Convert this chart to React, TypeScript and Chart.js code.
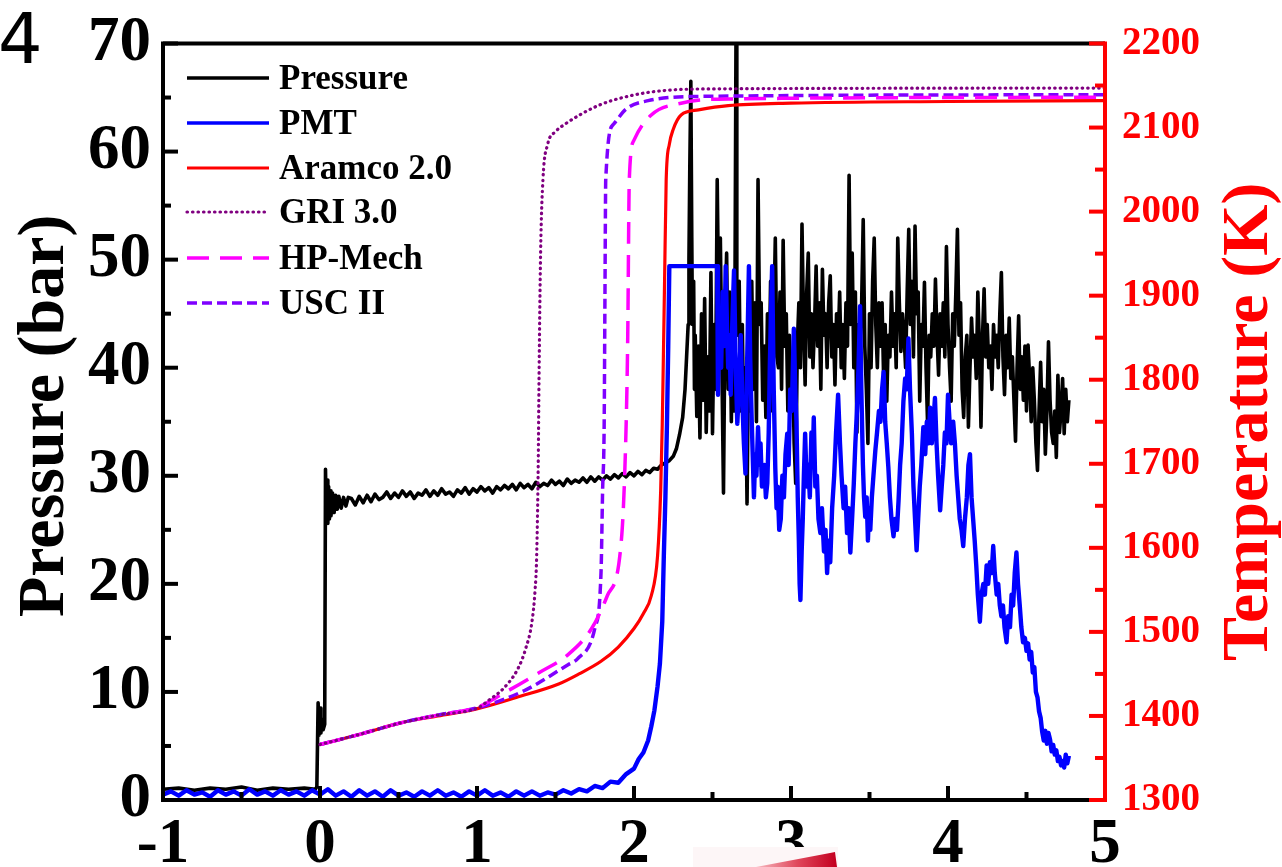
import React, { useEffect, useRef } from 'react';
import { Chart, registerables } from 'chart.js';

Chart.register(...registerables);

// ---------- data (time in ms on x) ----------
const seriesLabels = ['Pressure', 'PMT', 'Aramco 2.0', 'GRI 3.0', 'HP-Mech', 'USC II'];
const seriesColors = ['#000000', '#0000ff', '#ff0000', '#800080', '#ff00ff', '#7f00ff'];

const xTickValues = [-1, 0, 1, 2, 3, 4, 5];
const pressureTickValues = [0, 10, 20, 30, 40, 50, 60, 70];
const temperatureTickValues = [1300, 1400, 1500, 1600, 1700, 1800, 1900, 2000, 2100, 2200];

// Pressure (bar)
const pressureData: [number, number][] = [
  [-1, 1.0], [-0.9, 1.1], [-0.8, 0.9], [-0.7, 1.1], [-0.6, 1.0], [-0.5, 1.2], [-0.4, 0.9], [-0.3, 1.1],
  [-0.2, 1.0], [-0.1, 1.1], [-0.03, 1.0], [-0.02, 1.2], [-0.012, 9.0], [-0.006, 6.0], [0.0, 8.5],
  [0.006, 6.2], [0.012, 7.5], [0.02, 6.5], [0.03, 7.0], [0.035, 30.6], [0.04, 26.0], [0.045, 29.6],
  [0.05, 25.6], [0.055, 29.0], [0.06, 26.0], [0.065, 28.6], [0.07, 26.3], [0.08, 28.4], [0.09, 26.6],
  [0.1, 28.2], [0.11, 26.9], [0.12, 28.1], [0.135, 27.0], [0.15, 28.0], [0.165, 27.2], [0.18, 28.0],
  [0.2, 27.9], [0.225, 27.3], [0.25, 28.1], [0.275, 27.5], [0.3, 28.2], [0.325, 27.6], [0.35, 28.3],
  [0.375, 27.8], [0.4, 28.0], [0.425, 28.5], [0.45, 27.9], [0.475, 28.4], [0.5, 28.0], [0.525, 28.6],
  [0.55, 28.1], [0.575, 28.5], [0.6, 27.9], [0.625, 28.4], [0.65, 28.2], [0.675, 28.7], [0.7, 28.1],
  [0.725, 28.6], [0.75, 28.2], [0.775, 28.8], [0.8, 28.3], [0.825, 28.5], [0.85, 28.1], [0.875, 28.7],
  [0.9, 28.4], [0.925, 28.9], [0.95, 28.3], [0.975, 28.8], [1.0, 28.5], [1.025, 29.0], [1.05, 28.6],
  [1.075, 28.9], [1.1, 28.4], [1.125, 29.0], [1.15, 28.7], [1.175, 29.1], [1.2, 28.8], [1.225, 29.2],
  [1.25, 28.7], [1.275, 29.3], [1.3, 28.9], [1.325, 29.2], [1.35, 28.8], [1.375, 29.4], [1.4, 29.0],
  [1.425, 29.3], [1.45, 29.1], [1.475, 29.6], [1.5, 29.2], [1.525, 29.5], [1.55, 29.1], [1.575, 29.7],
  [1.6, 29.3], [1.625, 29.6], [1.65, 29.4], [1.675, 29.8], [1.7, 29.4], [1.725, 29.9], [1.75, 29.5],
  [1.775, 29.9], [1.8, 29.6], [1.825, 30.0], [1.85, 29.7], [1.875, 30.1], [1.9, 29.8], [1.925, 30.2],
  [1.95, 29.9], [1.975, 30.3], [2.0, 30.0], [2.025, 30.4], [2.05, 30.1], [2.075, 30.5], [2.1, 30.3],
  [2.125, 30.7], [2.15, 30.6], [2.175, 31.0], [2.2, 31.2], [2.225, 31.4], [2.25, 31.8], [2.27, 32.5],
  [2.29, 33.8], [2.31, 35.4], [2.325, 38], [2.335, 41], [2.345, 44], [2.35, 50], [2.355, 58],
  [2.362, 66.5], [2.368, 52], [2.372, 44], [2.38, 48], [2.385, 38], [2.39, 43], [2.40, 35.5],
  [2.41, 42], [2.42, 33.5], [2.43, 45], [2.44, 37], [2.45, 46.4], [2.46, 34], [2.47, 41], [2.48, 36],
  [2.49, 48.8], [2.50, 33.9], [2.51, 44], [2.52, 38], [2.53, 57.4], [2.54, 45], [2.55, 52], [2.56, 40],
  [2.57, 28.4], [2.58, 45], [2.59, 50.6], [2.60, 38], [2.61, 47], [2.62, 35], [2.63, 44], [2.64, 36],
  [2.65, 72], [2.655, 45], [2.66, 43], [2.67, 48], [2.68, 36], [2.69, 44], [2.70, 33], [2.71, 40],
  [2.72, 27.4], [2.73, 42], [2.74, 36], [2.75, 48], [2.76, 38], [2.77, 46], [2.78, 35], [2.79, 57.4],
  [2.80, 44], [2.81, 46], [2.82, 37], [2.83, 42], [2.84, 35.4], [2.85, 45], [2.86, 39], [2.87, 48],
  [2.88, 36], [2.89, 44], [2.90, 52], [2.91, 41], [2.92, 40], [2.93, 47], [2.94, 38], [2.95, 51.8],
  [2.96, 42], [2.97, 45], [2.98, 36], [2.99, 43], [3.00, 38], [3.01, 41], [3.02, 33], [3.03, 29.3],
  [3.04, 42], [3.05, 46], [3.06, 40], [3.07, 53.3], [3.08, 44], [3.09, 38.4], [3.10, 47], [3.11, 50.6],
  [3.12, 41], [3.13, 45], [3.14, 40], [3.15, 44], [3.16, 49.4], [3.17, 42], [3.18, 46], [3.19, 38],
  [3.20, 49.1], [3.21, 43], [3.22, 45], [3.23, 40], [3.24, 46], [3.25, 48.5], [3.26, 41], [3.27, 44],
  [3.28, 38.4], [3.29, 45], [3.30, 42], [3.31, 47], [3.32, 40], [3.33, 44], [3.34, 39], [3.35, 46],
  [3.36, 42], [3.37, 57.8], [3.38, 44], [3.39, 50.6], [3.40, 40], [3.41, 47], [3.42, 34], [3.43, 44],
  [3.44, 41], [3.45, 46], [3.46, 53.7], [3.47, 42], [3.48, 38], [3.49, 33], [3.50, 45], [3.51, 40],
  [3.52, 48], [3.53, 52], [3.54, 44], [3.55, 40], [3.56, 46], [3.57, 42], [3.58, 46], [3.59, 39],
  [3.60, 44], [3.61, 36.9], [3.62, 43], [3.63, 41], [3.64, 47], [3.65, 42], [3.66, 45], [3.67, 40],
  [3.68, 52], [3.69, 46], [3.70, 41.5], [3.71, 45], [3.72, 43], [3.73, 40], [3.74, 47], [3.75, 52.8],
  [3.76, 44], [3.77, 48], [3.78, 41], [3.79, 53.1], [3.80, 45], [3.81, 47], [3.82, 36.9], [3.83, 44],
  [3.84, 42], [3.85, 47.9], [3.86, 40], [3.87, 34.8], [3.88, 43], [3.89, 41], [3.90, 45], [3.91, 42],
  [3.92, 48.2], [3.93, 43], [3.94, 39.3], [3.95, 45], [3.96, 42], [3.97, 46], [3.98, 41], [3.99, 51.2],
  [4.00, 44], [4.01, 40], [4.02, 36.9], [4.03, 45], [4.04, 42], [4.05, 47], [4.06, 52.8], [4.07, 43],
  [4.08, 46], [4.09, 38], [4.10, 35.4], [4.11, 41], [4.12, 43], [4.13, 34.5], [4.14, 40], [4.15, 44.6],
  [4.16, 41], [4.17, 43], [4.18, 39], [4.19, 47], [4.20, 42], [4.21, 34.5], [4.22, 43], [4.23, 47.3],
  [4.24, 41], [4.25, 44], [4.26, 40], [4.27, 42], [4.28, 38], [4.29, 44], [4.30, 41], [4.31, 43],
  [4.32, 40], [4.33, 45], [4.34, 48.8], [4.35, 41], [4.36, 37.5], [4.37, 43], [4.38, 40], [4.39, 44.6],
  [4.40, 39], [4.41, 41], [4.42, 37], [4.43, 33.2], [4.44, 40], [4.45, 44.8], [4.46, 38], [4.47, 41],
  [4.48, 37], [4.49, 42], [4.50, 36], [4.51, 42.1], [4.52, 39], [4.53, 35], [4.54, 40], [4.55, 37],
  [4.56, 33], [4.57, 30.5], [4.58, 36], [4.59, 40.5], [4.60, 35], [4.61, 38], [4.62, 32], [4.63, 36],
  [4.64, 42.4], [4.65, 37], [4.66, 34], [4.67, 33], [4.68, 36], [4.69, 31.7], [4.70, 39.3], [4.71, 34],
  [4.72, 36], [4.73, 39], [4.74, 33.9], [4.75, 38], [4.76, 35], [4.77, 37],
];

// PMT signal (plotted on pressure axis)
const pmtData: [number, number][] = [
  [-1, 0.5], [-0.95, 0.8], [-0.9, 0.4], [-0.85, 0.9], [-0.8, 0.5], [-0.75, 0.7], [-0.7, 0.3], [-0.65, 0.9],
  [-0.6, 0.5], [-0.55, 0.8], [-0.5, 0.4], [-0.45, 1.0], [-0.4, 0.5], [-0.35, 0.8], [-0.3, 0.4], [-0.25, 0.9],
  [-0.2, 0.5], [-0.15, 0.8], [-0.1, 0.4], [-0.05, 0.9], [0, 0.5], [0.05, 1.0], [0.1, 0.4], [0.15, 0.8],
  [0.2, 0.3], [0.25, 0.9], [0.3, 0.4], [0.35, 0.8], [0.4, 0.3], [0.45, 0.9], [0.5, 0.4], [0.55, 0.7],
  [0.6, 0.3], [0.65, 0.8], [0.7, 0.4], [0.75, 0.9], [0.8, 0.4], [0.85, 0.7], [0.9, 0.3], [0.95, 0.8],
  [1.0, 0.4], [1.05, 0.9], [1.1, 0.4], [1.15, 0.7], [1.2, 0.3], [1.25, 0.8], [1.3, 0.4], [1.35, 0.8],
  [1.4, 0.4], [1.45, 0.7], [1.5, 0.5], [1.55, 0.9], [1.6, 0.6], [1.65, 1.0], [1.7, 0.8], [1.75, 1.3],
  [1.8, 1.1], [1.85, 1.7], [1.9, 1.6], [1.95, 2.4], [2.0, 2.9], [2.03, 3.8], [2.06, 4.4], [2.09, 5.5],
  [2.11, 6.8], [2.13, 8.3], [2.15, 10.5], [2.165, 12.6], [2.18, 16.5], [2.19, 22.6], [2.2, 28],
  [2.21, 34.8], [2.218, 42], [2.225, 49.4], [2.53, 49.4], [2.535, 37.5], [2.545, 45], [2.555, 40],
  [2.565, 47], [2.575, 42], [2.584, 49.4], [2.592, 44], [2.6, 40], [2.608, 43], [2.616, 37.5],
  [2.626, 44], [2.637, 49], [2.648, 40], [2.658, 34.8], [2.668, 38], [2.68, 43], [2.69, 37], [2.7, 33],
  [2.71, 30.2], [2.72, 40], [2.732, 49.4], [2.74, 41], [2.75, 35], [2.764, 28], [2.772, 32], [2.78, 30],
  [2.79, 34.5], [2.8, 31], [2.806, 33], [2.815, 29], [2.83, 31], [2.84, 28], [2.849, 29.3], [2.858, 34],
  [2.865, 40], [2.872, 45], [2.88, 49.4], [2.89, 38], [2.9, 30.7], [2.908, 27], [2.915, 29], [2.925, 25],
  [2.935, 26], [2.945, 30], [2.955, 28], [2.965, 32], [2.976, 33.9], [2.985, 31], [2.995, 38],
  [3.005, 36], [3.018, 43.6], [3.027, 38], [3.035, 35], [3.043, 28], [3.05, 24], [3.055, 20],
  [3.06, 18.5], [3.068, 23], [3.075, 26], [3.082, 30], [3.09, 33.9], [3.1, 29], [3.11, 31], [3.12, 28],
  [3.13, 34], [3.138, 31], [3.145, 35.4], [3.155, 29], [3.165, 30], [3.175, 26], [3.187, 24.7],
  [3.197, 27], [3.21, 23], [3.22, 25], [3.23, 21], [3.24, 24], [3.25, 22], [3.262, 27], [3.275, 30],
  [3.287, 34], [3.3, 37.5], [3.312, 33], [3.322, 30], [3.335, 27], [3.345, 29], [3.357, 24.7],
  [3.367, 27], [3.378, 22.9], [3.389, 26], [3.4, 29.3], [3.41, 33], [3.42, 36], [3.43, 40], [3.44, 45.7],
  [3.448, 38], [3.458, 31], [3.465, 28], [3.473, 26.2], [3.482, 28], [3.49, 24], [3.497, 27], [3.505, 25],
  [3.515, 28], [3.525, 30], [3.537, 32.3], [3.548, 34], [3.56, 36], [3.57, 35], [3.58, 38], [3.59, 39.6],
  [3.6, 35], [3.61, 33], [3.62, 30.8], [3.63, 28], [3.64, 26], [3.653, 24.4], [3.663, 26], [3.675, 25],
  [3.685, 27.7], [3.695, 31], [3.705, 33], [3.716, 36.9], [3.727, 39], [3.737, 38], [3.748, 42.7],
  [3.758, 38], [3.77, 33.9], [3.78, 29], [3.79, 26], [3.8, 23.1], [3.81, 26], [3.82, 29], [3.83, 31],
  [3.843, 34.5], [3.855, 32], [3.865, 35], [3.876, 33], [3.886, 36.3], [3.897, 33], [3.907, 35],
  [3.917, 37.2], [3.927, 33], [3.937, 30], [3.95, 26.8], [3.96, 29], [3.97, 31], [3.98, 34], [3.99, 33],
  [4.0, 37.5], [4.01, 35], [4.02, 33], [4.033, 35], [4.044, 33], [4.055, 30], [4.065, 28], [4.075, 26],
  [4.086, 25], [4.097, 23.5], [4.108, 26], [4.12, 28], [4.13, 31], [4.14, 32], [4.15, 28], [4.16, 26],
  [4.17, 24], [4.18, 21.7], [4.19, 19], [4.203, 16.5], [4.213, 19], [4.225, 20], [4.235, 19],
  [4.246, 21.7], [4.256, 20], [4.267, 22], [4.278, 21], [4.288, 23.5], [4.298, 21], [4.31, 19],
  [4.32, 20], [4.33, 18], [4.34, 17], [4.35, 18], [4.36, 16], [4.373, 14.6], [4.383, 17], [4.395, 16],
  [4.405, 19], [4.415, 18], [4.425, 21], [4.436, 22.9], [4.446, 20], [4.457, 18], [4.467, 16],
  [4.478, 14.6], [4.49, 15], [4.5, 13.8], [4.51, 14.5], [4.52, 13], [4.53, 13.7], [4.54, 11.8],
  [4.55, 12.3], [4.56, 10], [4.57, 9.5], [4.58, 8.2], [4.59, 7.6], [4.6, 6.3], [4.61, 5.5], [4.62, 6.4],
  [4.63, 5.2], [4.64, 6.2], [4.65, 5.6], [4.66, 4.5], [4.67, 5.1], [4.68, 4.2], [4.69, 4.6], [4.7, 3.6],
  [4.71, 4.0], [4.72, 3.2], [4.73, 3.6], [4.74, 3.0], [4.75, 4.2], [4.76, 3.4], [4.77, 4.1],
];

// Simulated temperatures (K)
const aramcoData: [number, number][] = [
  [0, 1366], [0.25, 1378], [0.52, 1392], [0.75, 1400], [1.01, 1409], [1.25, 1422], [1.52, 1438],
  [1.65, 1450], [1.79, 1465], [1.9, 1482], [2.0, 1504], [2.06, 1522], [2.11, 1543], [2.15, 1590],
  [2.17, 1668], [2.18, 1747], [2.185, 1802], [2.195, 1920], [2.205, 2038], [2.225, 2080], [2.25, 2098],
  [2.3, 2115], [2.41, 2121], [2.6, 2126], [3.0, 2129], [4.0, 2131], [5.0, 2132],
];
const griData: [number, number][] = [
  [0, 1366], [0.25, 1378], [0.52, 1392], [0.75, 1401], [1.01, 1410], [1.07, 1418], [1.17, 1433],
  [1.26, 1456], [1.31, 1480], [1.35, 1512], [1.37, 1550], [1.38, 1590], [1.39, 1700], [1.395, 1800],
  [1.405, 1950], [1.42, 2038], [1.45, 2080], [1.5, 2095], [1.56, 2104], [1.77, 2126], [1.98, 2138],
  [2.19, 2144], [2.5, 2146], [5.0, 2147],
];
const hpMechData: [number, number][] = [
  [0, 1366], [0.25, 1378], [0.52, 1392], [0.75, 1401], [1.01, 1411], [1.16, 1426], [1.4, 1452],
  [1.58, 1473], [1.73, 1504], [1.83, 1543], [1.92, 1610], [1.95, 1747], [1.96, 1850], [1.97, 2038],
  [2.0, 2085], [2.11, 2115], [2.3, 2129], [2.6, 2134], [5.0, 2136],
];
const uscData: [number, number][] = [
  [0, 1366], [0.25, 1378], [0.52, 1392], [0.75, 1401], [1.01, 1410], [1.3, 1430], [1.58, 1461],
  [1.64, 1468], [1.75, 1504], [1.79, 1571], [1.8, 1668], [1.81, 1747], [1.815, 1900], [1.82, 2038],
  [1.87, 2104], [1.95, 2122], [2.09, 2132], [2.4, 2137], [5.0, 2139],
];

const SERIF = '"Liberation Serif", "Times New Roman", serif';

const toXY = (arr: [number, number][]) => arr.map(([x, y]) => ({ x, y }));

const decorPlugin = {
  id: 'decor',
  afterDatasetsDraw(chart: any) {
    const { ctx, chartArea: a, scales } = chart;
    const xs = scales.x, ys = scales.y, y1s = scales.y1;
    ctx.save();
    ctx.lineCap = 'butt';
    ctx.lineWidth = 4;
    const seg = (x0: number, y0: number, x1: number, y1: number) => {
      ctx.beginPath(); ctx.moveTo(x0, y0); ctx.lineTo(x1, y1); ctx.stroke();
    };
    // x ticks (inward)
    ctx.strokeStyle = '#000';
    for (let i = 0; i <= 12; i++) {
      const v = -1 + i * 0.5;
      const px = xs.getPixelForValue(v);
      seg(px, a.bottom, px, a.bottom - (i % 2 === 0 ? 14 : 8));
    }
    // left y ticks
    for (let i = 0; i <= 14; i++) {
      const v = i * 5;
      const py = ys.getPixelForValue(v);
      seg(a.left, py, a.left + (i % 2 === 0 ? 15 : 8), py);
    }
    // frame
    seg(a.left - 2, a.top, a.right, a.top);
    seg(a.left, a.top, a.left, a.bottom + 2);
    seg(a.left - 2, a.bottom, a.right, a.bottom);
    // right axis (red)
    ctx.strokeStyle = '#ff0000';
    for (let i = 0; i <= 18; i++) {
      const v = 1300 + i * 50;
      const py = y1s.getPixelForValue(v);
      seg(a.right, py, a.right - (i % 2 === 0 ? 16 : 10), py);
    }
    seg(a.right, a.top - 2, a.right, a.bottom + 2);
    ctx.restore();
  },
  afterDraw(chart: any) {
    const { ctx, chartArea: a } = chart;
    ctx.save();
    // legend
    const rowY = [78, 123, 168, 212, 258, 303];
    chart.data.datasets.forEach((ds: any, i: number) => {
      const y = rowY[i];
      ctx.save();
      ctx.strokeStyle = ds.borderColor;
      ctx.lineWidth = Math.min(ds.borderWidth, 3.5);
      ctx.lineCap = ds.borderCapStyle || 'butt';
      ctx.setLineDash(ds.borderDash || []);
      ctx.beginPath(); ctx.moveTo(187, y); ctx.lineTo(269, y); ctx.stroke();
      ctx.restore();
      ctx.fillStyle = '#000';
      ctx.font = `bold 35px ${SERIF}`;
      ctx.textAlign = 'left';
      ctx.textBaseline = 'alphabetic';
      ctx.fillText(ds.label, 279, y + 11);
    });
    // axis titles
    ctx.font = `bold 66px ${SERIF}`;
    ctx.textAlign = 'center';
    ctx.textBaseline = 'alphabetic';
    ctx.save();
    ctx.translate(63, (a.top + a.bottom) / 2 - 6);
    ctx.rotate(-Math.PI / 2);
    ctx.fillStyle = '#000';
    ctx.fillText('Pressure (bar)', 0, 0);
    ctx.restore();
    ctx.save();
    ctx.translate(1267, (a.top + a.bottom) / 2);
    ctx.rotate(-Math.PI / 2);
    ctx.fillStyle = '#ff0000';
    ctx.fillText('Temperature (K)', 0, 0);
    ctx.restore();
    // overlapping fragment at the bottom
    ctx.fillStyle = '#fdf6f7';
    ctx.fillRect(693, 847, 145, 40);
    const g = ctx.createLinearGradient(758, 0, 836, 0);
    g.addColorStop(0, '#f6b3bb');
    g.addColorStop(0.5, '#e0485c');
    g.addColorStop(1, '#c40020');
    ctx.fillStyle = g;
    ctx.beginPath();
    ctx.moveTo(756, 867);
    ctx.lineTo(830, 853);
    ctx.lineTo(835, 852);
    ctx.lineTo(837, 867);
    ctx.closePath();
    ctx.fill();
    ctx.restore();
  },
};

export default function App() {
  const ref = useRef<HTMLCanvasElement | null>(null);
  useEffect(() => {
    if (!ref.current) return;
    const tickFont = { family: SERIF, size: 63, weight: 'bold' as const, lineHeight: 1 };
    const plain = (v: any) => String(v);
    const chart = new Chart(ref.current, {
      type: 'line',
      data: {
        datasets: [
          { label: seriesLabels[0], data: toXY(pressureData), yAxisID: 'y', borderColor: seriesColors[0], borderWidth: 3.6, order: 3, borderJoinStyle: 'round' },
          { label: seriesLabels[1], data: toXY(pmtData), yAxisID: 'y', borderColor: seriesColors[1], borderWidth: 4.4, order: 2, borderJoinStyle: 'round' },
          { label: seriesLabels[2], data: toXY(aramcoData), yAxisID: 'y1', borderColor: seriesColors[2], borderWidth: 3.2, order: 1, cubicInterpolationMode: 'monotone' },
          { label: seriesLabels[3], data: toXY(griData), yAxisID: 'y1', borderColor: seriesColors[3], borderWidth: 3.2, borderDash: [0.5, 5], borderCapStyle: 'round', order: 0, cubicInterpolationMode: 'monotone' },
          { label: seriesLabels[4], data: toXY(hpMechData), yAxisID: 'y1', borderColor: seriesColors[4], borderWidth: 3.5, borderDash: [22, 11], order: 0, cubicInterpolationMode: 'monotone' },
          { label: seriesLabels[5], data: toXY(uscData), yAxisID: 'y1', borderColor: seriesColors[5], borderWidth: 3.5, borderDash: [10, 5], order: 0, cubicInterpolationMode: 'monotone' },
        ] as any,
      },
      options: {
        responsive: false,
        maintainAspectRatio: false,
        animation: false,
        devicePixelRatio: 1,
        events: [],
        elements: { point: { radius: 0 }, line: { tension: 0 } },
        layout: { padding: { top: 35, left: 0, right: 0, bottom: 0 } },
        plugins: { legend: { display: false }, tooltip: { enabled: false } },
        scales: {
          x: {
            type: 'linear',
            min: -1,
            max: 5,
            afterFit: (s: any) => { s.height = 100; },
            afterBuildTicks: (s: any) => { s.ticks = xTickValues.map((v) => ({ value: v })); },
            grid: { display: false, drawTicks: false },
            border: { display: false },
            ticks: { color: '#000', padding: 14, font: tickFont, maxRotation: 0, autoSkip: false, callback: plain },
          },
          y: {
            type: 'linear',
            position: 'left',
            min: 0,
            max: 70,
            afterFit: (s: any) => { s.width = 163; },
            afterBuildTicks: (s: any) => { s.ticks = pressureTickValues.map((v) => ({ value: v })); },
            grid: { display: false, drawTicks: false },
            border: { display: false },
            ticks: { color: '#000', padding: 12, font: tickFont, autoSkip: false, callback: plain },
          },
          y1: {
            type: 'linear',
            position: 'right',
            min: 1300,
            max: 2200,
            afterFit: (s: any) => { s.width = 177; },
            afterBuildTicks: (s: any) => { s.ticks = temperatureTickValues.map((v) => ({ value: v })); },
            grid: { display: false, drawTicks: false },
            border: { display: false },
            ticks: { color: '#ff0000', padding: 17, font: { family: SERIF, size: 39, weight: 'bold', lineHeight: 1 }, autoSkip: false, callback: plain },
          },
        },
      } as any,
      plugins: [decorPlugin as any],
    });
    return () => chart.destroy();
  }, []);

  return (
    <div style={{ position: 'fixed', left: 0, top: 0, width: 1282, height: 867, overflow: 'hidden', background: '#fff' }}>
      <canvas ref={ref} width={1282} height={900} style={{ display: 'block', width: 1282, height: 900 }} />
      <div
        style={{
          position: 'absolute',
          left: -2,
          top: 4,
          fontFamily: '"DejaVu Sans", "Noto Sans", sans-serif',
          fontSize: 70,
          fontWeight: 400,
          lineHeight: 1,
          color: '#000',
        }}
      >
        4
      </div>
    </div>
  );
}
